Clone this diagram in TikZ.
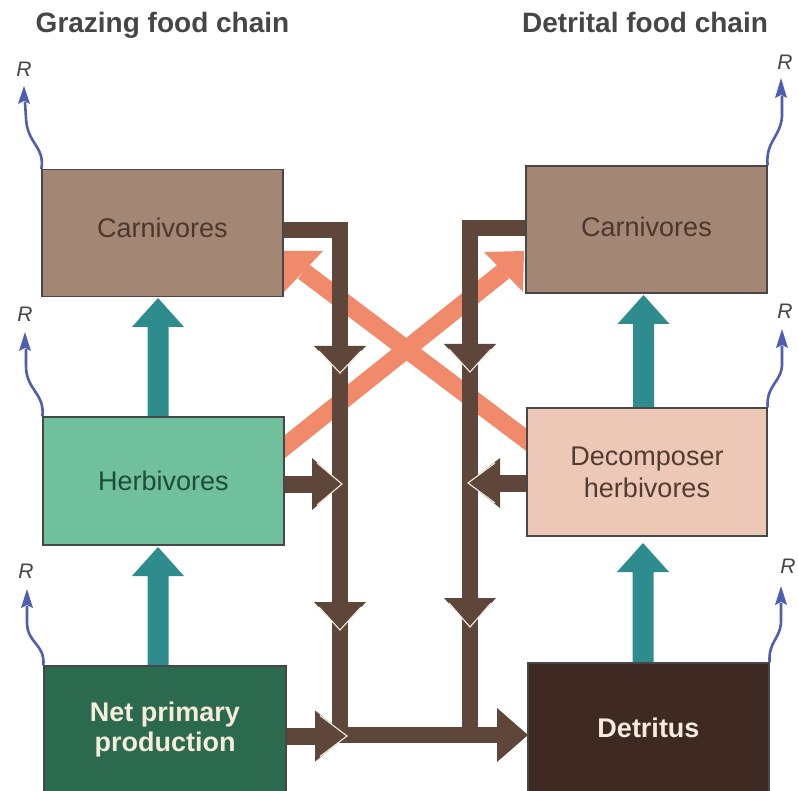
\documentclass[tikz,border=0pt]{standalone}
\usepackage{fontspec}
\setmainfont{Liberation Sans}
\usetikzlibrary{calc,backgrounds}
\definecolor{carnc}{RGB}{163,135,116}
\definecolor{herbc}{RGB}{112,192,158}
\definecolor{decc}{RGB}{238,200,182}
\definecolor{nppc}{RGB}{44,106,80}
\definecolor{detc}{RGB}{62,42,34}
\definecolor{flowc}{RGB}{94,70,58}
\definecolor{tealc}{RGB}{46,140,142}
\definecolor{salc}{RGB}{240,138,106}
\definecolor{bluec}{RGB}{80,94,178}
\definecolor{titc}{RGB}{70,70,70}
\definecolor{creamc}{RGB}{246,236,218}
\definecolor{carnt}{RGB}{75,55,45}
\definecolor{herbt}{RGB}{30,75,58}
\definecolor{dect}{RGB}{80,60,50}
% arrow heads: tip x, tip y, angle, length, half width, colour
\newcommand{\ahd}[6]{\begin{scope}[shift={(#1,#2)},rotate=#3]\fill[#6] (0,0) -- (-#4,#5) -- (-#4,-#5) -- cycle;\end{scope}}
\newcommand{\ahdv}[6]{\begin{scope}[shift={(#1,#2)},rotate=#3]\fill[#6] (0,0) -- (-#4,#5) -- (-#4,-#5) -- cycle;
\draw[creamc,line width=1.1pt,line join=miter] (-#4+5,#5-5) -- (0,0) -- (-#4+5,-#5+5);\end{scope}}
\newcommand{\tealup}[3]{\fill[tealc] (#1-10.5,#2) -- (#1-10.5,#3+29) -- (#1-26,#3+29) -- (#1,#3) -- (#1+26,#3+29) -- (#1+10.5,#3+29) -- (#1+10.5,#2) -- cycle;}
\newcommand{\bluehead}[3]{\fill[bluec] (#1,#2) -- (#1-6,#3) -- (#1,#3-3) -- (#1+6,#3) -- cycle;}
\begin{document}
\begin{tikzpicture}[x=1pt,y=-1pt,
  box/.style={draw=black!72, line width=1.2pt, minimum width=241pt, minimum height=127pt,
    inner sep=0pt, align=center, font=\fontsize{27}{32}\selectfont},
  ttl/.style={anchor=base, text=titc, font=\fontsize{28}{30}\selectfont\bfseries},
  rlab/.style={text=titc, inner sep=0pt, font=\fontsize{21}{22}\selectfont\itshape},
  flow/.style={draw=flowc, line width=16pt, line join=miter},
  sal/.style={draw=salc, line width=18pt},
  wavy/.style={draw=bluec, line width=2.6pt}]
\useasboundingbox (0,0) rectangle (798,791);

% titles
\node[ttl] (tg) at (162.5,33) {Grazing food chain};
\node[ttl] (td) at (645,33) {Detrital food chain};

% boxes
\node[box, fill=carnc, text=carnt, text depth=10pt] (carnL) at (162.5,233) {Carnivores};
\node[box, fill=carnc, text=carnt, text depth=5pt] (carnR) at (646.5,229.5) {Carnivores};
\node[box, fill=herbc, text=herbt, minimum height=128pt] (herb) at (163.5,481) {Herbivores};
\node[box, fill=decc, text=dect, minimum width=240pt, minimum height=128pt] (dec) at (647,472) {Decomposer\\herbivores};
\node[box, fill=nppc, text=creamc, minimum width=242pt, minimum height=128pt, font=\fontsize{27}{30}\selectfont\bfseries] (npp) at (165,730) {Net primary\\production};
\node[box, fill=detc, text=creamc, minimum height=129pt, font=\fontsize{27}{30}\selectfont\bfseries] (det) at (648.5,727.5) {Detritus};

% R labels
\node[rlab] (r1) at (24,69) {R};
\node[rlab] (r2) at (785,62) {R};
\node[rlab] (r3) at (25,314) {R};
\node[rlab] (r4) at (785,311) {R};
\node[rlab] (r5) at (26,571) {R};
\node[rlab] (r6) at (788,566) {R};

\begin{pgfonlayer}{background}
\fill[white] (0,0) rectangle (798,791);
% salmon cross arrows
\draw[sal] ($(herb.east)+(-24,-15)$) -- (503.5,271.5);
\fill[salc] (524,251) -- (484,252) -- (523,292) -- cycle;
\draw[sal] ($(dec.west)+(24,-14)$) -- (303.5,271.5);
\fill[salc] (282,251) -- (323,251) -- (284,292) -- cycle;
% brown flows
\coordinate (jl) at (340,735);
\coordinate (jr) at (470,735);
\draw[flow] ($(carnL.east)+(-3,-3)$) -- (340,230) -- (jl) -- (499,735);
\draw[flow] ($(carnR.west)+(3,-1.5)$) -- (470,228) -- (jr);
\ahd{528}{735}{0}{31}{27}{flowc}
\ahdv{340}{373}{-90}{27}{26}{flowc}
\ahdv{340}{630}{-90}{28}{26}{flowc}
\ahdv{470}{372}{-90}{28}{26}{flowc}
\ahdv{470}{627}{-90}{29}{26}{flowc}
\draw[draw=flowc, line width=17pt] ($(herb.east)+(-3,3)$) -- (313,484);
\ahdv{342}{484}{0}{30}{26}{flowc}
\draw[draw=flowc, line width=17pt] ($(npp.east)+(-3,6)$) -- (316,736);
\ahdv{347}{736}{0}{32}{25.5}{flowc}
\draw[draw=flowc, line width=17pt] ($(dec.west)+(3,11)$) -- (499,483);
\ahdv{468}{483}{180}{32}{25}{flowc}
% teal arrows
\tealup{158}{420}{298}
\tealup{158}{668}{547}
\tealup{643.5}{410}{295}
\tealup{643}{665}{543}
% respiration wavy arrows
\draw[wavy] (carnL.north west) .. controls (45,146) and (27,144) .. (26,118) -- (25,102);
\bluehead{24}{86}{104}
\draw[wavy] (carnR.north east) .. controls (765,140) and (783,136) .. (782,112) -- (782,96);
\bluehead{781}{78}{98}
\draw[wavy] (herb.north west) .. controls (45,393) and (26,390) .. (26,366) -- (26,349);
\bluehead{25}{332}{351}
\draw[wavy] (dec.north east) .. controls (766,384) and (783,382) .. (782,362) -- (782,346);
\bluehead{782}{329}{348}
\draw[wavy] (npp.north west) .. controls (45,643) and (27,644) .. (27,622) -- (27,606);
\bluehead{27}{589}{608}
\draw[wavy] (det.north east) .. controls (768,640) and (782,639) .. (781,618) -- (781,603);
\bluehead{781}{586}{605}
\end{pgfonlayer}
\end{tikzpicture}
\end{document}
